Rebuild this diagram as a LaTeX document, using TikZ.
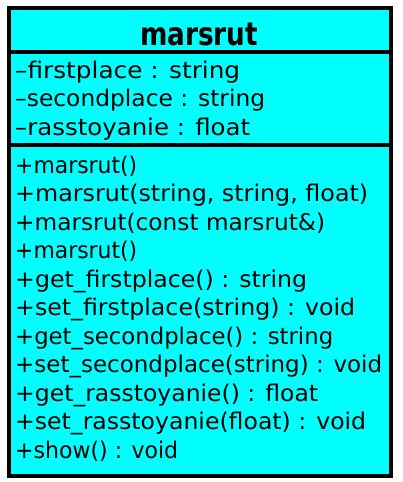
\documentclass[tikz,border=0pt]{standalone}
\usepackage{fontspec}
\setmainfont{DejaVu Sans}
\definecolor{boxcyan}{RGB}{0,255,255}
\newbox\fitlinebox
\newcommand\fitline[2]{%
  \setbox\fitlinebox\hbox{#2}%
  \pgfmathsetmacro\fitlineratio{#1/\wd\fitlinebox}%
  \scalebox{\fitlineratio}[1]{\box\fitlinebox}}
\begin{document}
\begin{tikzpicture}[x=1pt,y=-1pt,
  box/.style={line width=4pt,draw=black,fill=boxcyan},
  sep/.style={line width=4pt,draw=black},
  member/.style={anchor=base west,inner sep=0pt,font=\fontsize{23}{26}\selectfont},
  title/.style={anchor=base,inner sep=0pt,font=\fontsize{32}{34}\selectfont\bfseries}]
\useasboundingbox (0,0) rectangle (402,482);
\path[box] (9,8) rectangle (391,475.5);
\draw[sep] (9,51.5) -- (391,51.5);
\draw[sep] (9,145) -- (391,145);
\node[title] (t) at (199,45.5) {\fitline{118}{marsrut}};
\node[member] (a1) at (15,78) {\fitline{225}{–firstplace : string}};
\node[member] (a2) at (15,106.5) {\fitline{250}{–secondplace : string}};
\node[member] (a3) at (15,135) {\fitline{235}{–rasstoyanie : float}};
\node[member] (m1) at (15,173) {\fitline{122}{+marsrut()}};
\node[member] (m2) at (15,201.5) {\fitline{353}{+marsrut(string, string, float)}};
\node[member] (m3) at (15,230) {\fitline{310}{+marsrut(const marsrut\&)}};
\node[member] (m4) at (15,258.5) {\fitline{122}{+marsrut()}};
\node[member] (m5) at (15,287) {\fitline{292}{+get\_firstplace() : string}};
\node[member] (m6) at (15,315.5) {\fitline{340}{+set\_firstplace(string) : void}};
\node[member] (m7) at (15,344) {\fitline{318}{+get\_secondplace() : string}};
\node[member] (m8) at (15,372.5) {\fitline{367}{+set\_secondplace(string) : void}};
\node[member] (m9) at (15,401) {\fitline{303}{+get\_rasstoyanie() : float}};
\node[member] (m10) at (15,429.5) {\fitline{351}{+set\_rasstoyanie(float) : void}};
\node[member] (m11) at (15,458) {\fitline{163}{+show() : void}};
\end{tikzpicture}
\end{document}
